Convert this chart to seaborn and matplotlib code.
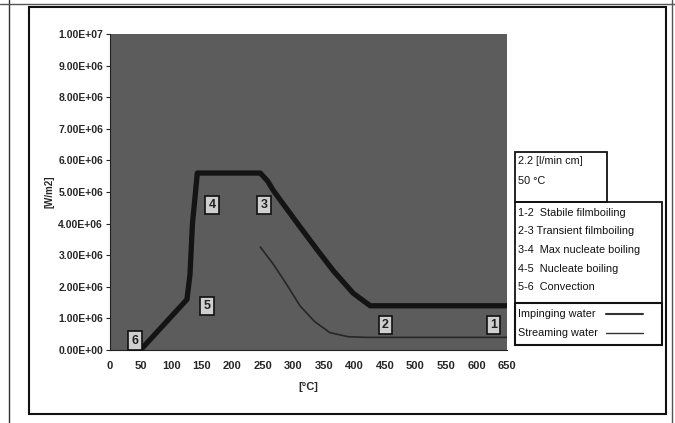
import matplotlib
matplotlib.use("Agg")
import matplotlib.pyplot as plt
from matplotlib.patches import Rectangle
from matplotlib.lines import Line2D
import seaborn as sns
import pandas as pd

# impinging water (thick line)
imp_temp = [50, 126, 131, 135, 143, 246, 258, 267, 290, 311, 340, 366, 398, 426, 650]
imp_flux = [0, 1.6e6, 2.4e6, 4.0e6, 5.6e6, 5.6e6, 5.35e6, 5.06e6, 4.45e6, 3.9e6, 3.15e6, 2.5e6, 1.8e6, 1.4e6, 1.4e6]

# streaming water (thin line)
str_temp = [246, 268, 290, 311, 335, 360, 390, 420, 650]
str_flux = [3.26e6, 2.7e6, 2.05e6, 1.4e6, 0.9e6, 0.55e6, 0.42e6, 0.4e6, 0.4e6]

# numbered points on the curve
point_labels = ["1", "2", "3", "4", "5", "6"]
point_x = [628, 451, 252, 167, 159, 41]
point_y = [0.8e6, 0.8e6, 4.6e6, 4.6e6, 1.4e6, 0.3e6]

x_ticks = list(range(0, 651, 50))
y_ticks = [i * 1e6 for i in range(11)]
y_tick_labels = ["0.00E+00", "1.00E+06", "2.00E+06", "3.00E+06", "4.00E+06", "5.00E+06",
                 "6.00E+06", "7.00E+06", "8.00E+06", "9.00E+06", "1.00E+07"]

conditions = ["2.2 [l/min cm]", "50 \u00b0C"]
phases = ["1-2  Stabile filmboiling", "2-3 Transient filmboiling", "3-4  Max nucleate boiling",
          "4-5  Nucleate boiling", "5-6  Convection"]
series_names = ["Impinging water", "Streaming water"]

sns.set_style("white")
plt.rcParams["font.family"] = ["Liberation Sans", "DejaVu Sans"]

W, H = 675, 423
fig = plt.figure(figsize=(6.75, 4.23), dpi=100)
ax = fig.add_axes([110 / W, 1 - 350 / H, 397 / W, 316 / H])

imp = pd.DataFrame({"temp": imp_temp, "flux": imp_flux})
stm = pd.DataFrame({"temp": str_temp, "flux": str_flux})
sns.lineplot(data=imp, x="temp", y="flux", ax=ax, color="#141414", linewidth=3.8,
             sort=False, estimator=None)
sns.lineplot(data=stm, x="temp", y="flux", ax=ax, color="#262626", linewidth=1.2,
             sort=False, estimator=None)

ax.set_facecolor("#5c5c5c")
ax.set_xlim(0, 650)
ax.set_ylim(0, 1e7)
ax.set_xticks(x_ticks)
ax.set_xticklabels([str(t) for t in x_ticks], fontsize=8, fontweight="bold")
ax.set_yticks(y_ticks)
ax.set_yticklabels(y_tick_labels, fontsize=7.5, fontweight="bold")
ax.tick_params(axis="y", direction="out", length=3, width=0.8, left=True, pad=2)
ax.tick_params(axis="x", length=0, pad=8)
for s in ax.spines.values():
    s.set_visible(False)
ax.spines["left"].set_visible(True)
ax.spines["left"].set_color("#222222")
ax.spines["bottom"].set_visible(True)
ax.spines["bottom"].set_color("#222222")
ax.set_xlabel("[\u00b0C]", fontsize=8, fontweight="bold", labelpad=8)
ax.set_ylabel("[W/m2]", fontsize=7, fontweight="bold", labelpad=3)

for lab, px, py in zip(point_labels, point_x, point_y):
    ax.text(px, py, lab, fontsize=9, fontweight="bold", color="#222222",
            ha="center", va="center",
            bbox=dict(boxstyle="square,pad=0.25", facecolor="#d0d0d0", edgecolor="#111111", linewidth=1.2))


def box(x0, y0, x1, y1, lw=1.3):
    fig.patches.append(Rectangle((x0 / W, 1 - y1 / H), (x1 - x0) / W, (y1 - y0) / H,
                                 transform=fig.transFigure, fill=False,
                                 edgecolor="#111111", linewidth=lw))


def ftext(x, y, s, size=7.8):
    fig.text(x / W, 1 - y / H, s, fontsize=size, va="center", ha="left", color="#111111")


# chart frame
box(29, 7, 666, 414, lw=1.5)
fig.add_artist(Line2D([9 / W, 9 / W], [0, 1], transform=fig.transFigure, color="#333333", lw=1))
fig.add_artist(Line2D([672 / W, 672 / W], [0, 1], transform=fig.transFigure, color="#555555", lw=1))
fig.add_artist(Line2D([0, 1], [1 - 4 / H, 1 - 4 / H], transform=fig.transFigure, color="#555555", lw=1))

box(515, 152, 607, 202)
ftext(518, 161, conditions[0])
ftext(518, 181, conditions[1])

box(515, 202, 662, 303)
for i, p in enumerate(phases):
    ftext(518, 213 + i * 18.5, p)

box(515, 303, 662, 345, lw=1.5)
for i, name in enumerate(series_names):
    yy = 314 + i * 19
    ftext(518, yy, name)
    fig.add_artist(Line2D([606 / W, 643 / W], [1 - yy / H, 1 - yy / H], transform=fig.transFigure,
                          color="#333333", lw=1.5 if i == 0 else 1))

fig.savefig("out.png", dpi=100)
